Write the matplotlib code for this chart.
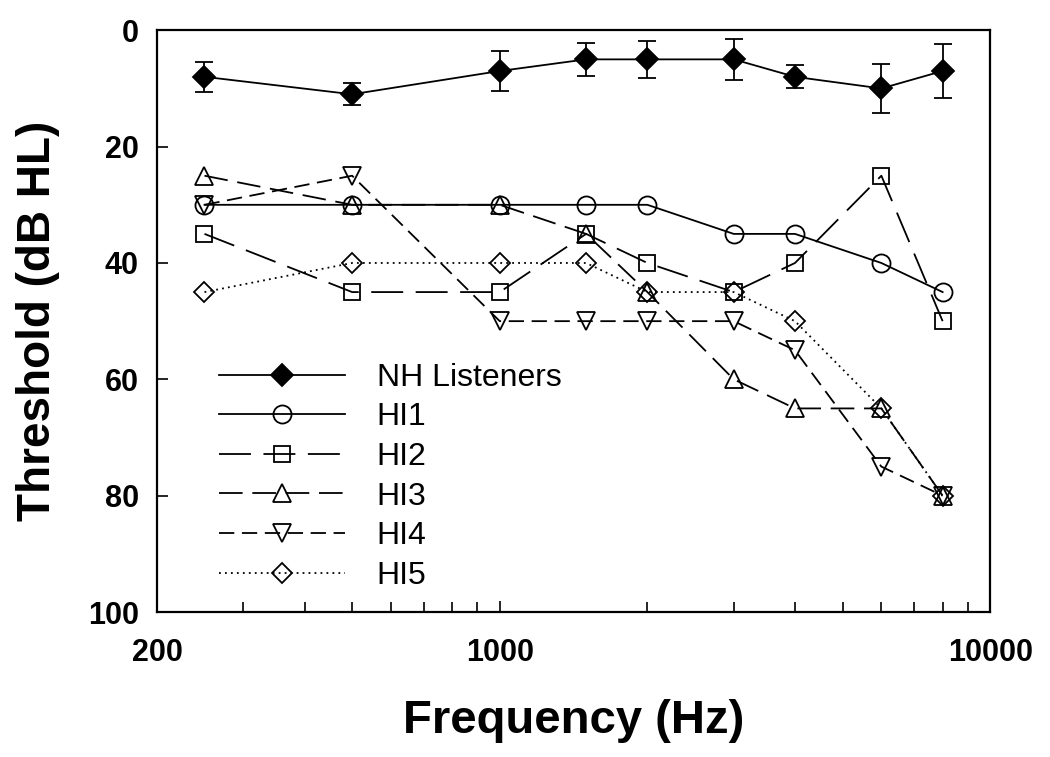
import numpy as np
import matplotlib
matplotlib.use("Agg")
import matplotlib.pyplot as plt
from matplotlib.ticker import FixedLocator, NullFormatter, FixedFormatter

plt.rcParams['font.family'] = ['Liberation Sans', 'DejaVu Sans']
plt.rcParams['lines.scale_dashes'] = False

freqs = [250, 500, 1000, 1500, 2000, 3000, 4000, 6000, 8000]
nh = [8, 11, 7, 5, 5, 5, 8, 10, 7]
nh_err = [2.6, 1.9, 3.4, 2.8, 3.2, 3.5, 2.0, 4.2, 4.6]
hi1 = [30, 30, 30, 30, 30, 35, 35, 40, 45]
hi2 = [35, 45, 45, 35, 40, 45, 40, 25, 50]
hi3 = [25, 30, 30, 35, 45, 60, 65, 65, 80]
hi4 = [30, 25, 50, 50, 50, 50, 55, 75, 80]
hi5 = [45, 40, 40, 40, 45, 45, 50, 65, 80]

fig = plt.figure(figsize=(10.5, 7.57), dpi=100)
ax = fig.add_axes([0.1495, 0.1915, 0.7935, 0.7685])

lw = 1.3
common = dict(color='black', lw=lw, mec='black', mew=1.3)

ax.errorbar(freqs, nh, yerr=nh_err, fmt='none', ecolor='black',
            elinewidth=lw, capsize=6.5, capthick=lw)
ax.plot(freqs, nh, marker='D', ms=11, mfc='black', ls='-',
        label='NH Listeners', **common)
ax.plot(freqs, hi1, marker='o', ms=13, mfc='none', ls='-',
        label='HI1', **common)
ax.plot(freqs, hi2, marker='s', ms=11.5, mfc='none', ls=(0, (23, 9)),
        label='HI2', **common)
ax.plot(freqs, hi3, marker='^', ms=13, mfc='none', ls=(0, (17, 7)),
        label='HI3', **common)
ax.plot(freqs, hi4, marker='v', ms=13, mfc='none', ls=(0, (11, 5.5)),
        label='HI4', **common)
ax.plot(freqs, hi5, marker='D', ms=10, mfc='none', ls=(0, (1.3, 3)),
        label='HI5', **common)

ax.set_xscale('log')
ax.set_xlim(200, 10000)
ax.set_ylim(100, 0)

ax.xaxis.set_major_locator(FixedLocator([200, 1000, 10000]))
ax.xaxis.set_major_formatter(FixedFormatter(['200', '1000', '10000']))
ax.xaxis.set_minor_locator(FixedLocator([300, 400, 500, 600, 700, 800, 900,
                                         2000, 3000, 4000, 5000, 6000, 7000, 8000, 9000]))
ax.xaxis.set_minor_formatter(NullFormatter())
ax.set_yticks([0, 20, 40, 60, 80, 100])

ax.tick_params(axis='both', which='both', direction='in', width=1.2)
ax.tick_params(axis='both', which='major', length=8, labelsize=22)
ax.tick_params(axis='y', which='major', pad=13)
ax.tick_params(axis='x', which='major', pad=19)
ax.tick_params(axis='x', which='minor', length=7)
for lab in ax.get_xticklabels() + ax.get_yticklabels():
    lab.set_fontweight('bold')

for sp in ax.spines.values():
    sp.set_linewidth(1.6)

ax.set_xlabel('Frequency (Hz)', fontsize=34, fontweight='bold', labelpad=22)
ax.set_ylabel('Threshold (dB HL)', fontsize=33, fontweight='bold', labelpad=20)

ax.legend(loc='upper left', bbox_to_anchor=(0.196, 0.5375),
          bbox_transform=fig.transFigure, frameon=False, fontsize=23,
          handlelength=3.95, handletextpad=1.0, labelspacing=0.3,
          borderaxespad=0)

fig.savefig('out.png', dpi=100)
